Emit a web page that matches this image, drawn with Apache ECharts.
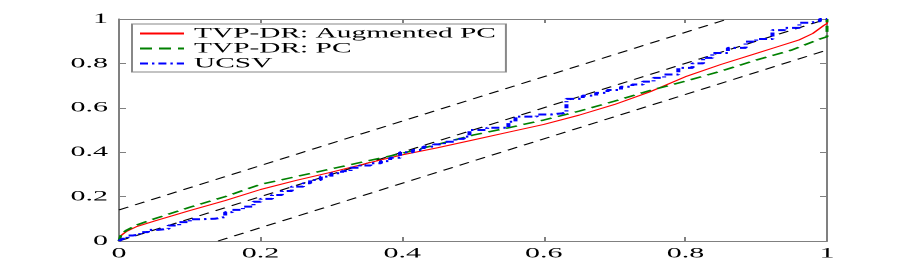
<!DOCTYPE html>
<html><head><meta charset="utf-8">
<script src="https://cdn.jsdelivr.net/npm/echarts@6/dist/echarts.min.js"></script>
<style>
html,body{margin:0;padding:0;background:#fff;overflow:hidden}
#wrap{width:913px;height:271px;overflow:hidden}
#c{width:456.5px;height:271px;transform:scaleX(2);transform-origin:0 0}
</style>
</head><body><div id="wrap"><div id="c"></div></div>
<script>
var seriesNames = ['TVP-DR: Augmented PC', 'TVP-DR: PC', 'UCSV'];
var redCurve = [[0,0],[0.003,0.025],[0.01,0.042],[0.025,0.065],[0.05,0.09],[0.1,0.137],[0.15,0.182],[0.2,0.232],[0.25,0.273],[0.3,0.31],[0.35,0.35],[0.4,0.388],[0.45,0.42],[0.5,0.455],[0.55,0.49],[0.6,0.525],[0.65,0.567],[0.7,0.615],[0.75,0.672],[0.8,0.74],[0.85,0.795],[0.9,0.845],[0.93,0.875],[0.96,0.905],[0.98,0.935],[0.995,0.97],[1,0.98],[1,1]];
var greenCurve = [[0,0],[0.003,0.03],[0.01,0.047],[0.025,0.072],[0.05,0.1],[0.1,0.152],[0.15,0.2],[0.2,0.255],[0.25,0.29],[0.3,0.325],[0.35,0.36],[0.4,0.395],[0.45,0.435],[0.5,0.477],[0.55,0.51],[0.6,0.545],[0.65,0.585],[0.7,0.63],[0.75,0.678],[0.8,0.72],[0.85,0.765],[0.9,0.815],[0.95,0.86],[0.99,0.91],[1,0.92],[1,1]];
var blueCurve = [[0,0],[0.005,0.01],[0.012,0.025],[0.02,0.03],[0.03,0.04],[0.041,0.05],[0.055,0.055],[0.07,0.07],[0.085,0.085],[0.1,0.098],[0.115,0.1],[0.135,0.108],[0.15,0.13],[0.16,0.14],[0.175,0.155],[0.19,0.177],[0.2,0.19],[0.216,0.207],[0.23,0.225],[0.244,0.245],[0.26,0.26],[0.27,0.275],[0.285,0.29],[0.3,0.305],[0.315,0.315],[0.327,0.33],[0.34,0.34],[0.355,0.35],[0.37,0.36],[0.383,0.375],[0.397,0.4],[0.415,0.41],[0.43,0.425],[0.445,0.435],[0.459,0.447],[0.475,0.46],[0.487,0.47],[0.495,0.5],[0.52,0.51],[0.55,0.537],[0.56,0.56],[0.59,0.57],[0.61,0.575],[0.626,0.58],[0.632,0.64],[0.655,0.655],[0.674,0.667],[0.69,0.68],[0.709,0.695],[0.725,0.705],[0.74,0.718],[0.755,0.735],[0.77,0.75],[0.79,0.78],[0.81,0.8],[0.825,0.825],[0.838,0.847],[0.86,0.87],[0.885,0.898],[0.9,0.91],[0.923,0.95],[0.94,0.96],[0.961,0.983],[0.975,0.99],[0.99,1],[1,1]];
var diagLine = [[0,0],[1,1]];
var upperBand = [[0,0.14],[0.86,1]];
var lowerBand = [[0.14,0],[1,0.86]];

var chart = echarts.init(document.getElementById('c'), null, {renderer:'canvas', devicePixelRatio:2});
var axisCol = '#808080';
var font = 'Liberation Serif';
function baseAxis(pos, showLabel, tickLen, margin) {
  return {
    type:'value', min:0, max:1, interval:0.2, position:pos,
    axisLine:{show:true, onZero:false, lineStyle:{color:axisCol, width:1}},
    axisTick:{show:true, inside:true, length:tickLen, lineStyle:{color:axisCol, width:1}},
    axisLabel:{show:showLabel, color:'#000', fontFamily:font, fontSize:15, margin:margin},
    splitLine:{show:false}
  };
}
var blackStyle = {color:'#000', width:1, type:[5.5,4]};
function bl(name, data){
  return {name:name, type:'line', data:data, symbol:'none', silent:true, lineStyle:blackStyle, z:1};
}
chart.setOption({
  animation:false,
  backgroundColor:'#fff',
  grid:{left:59.5, right:43.5, top:19, bottom:30, containLabel:false},
  xAxis:[baseAxis('bottom', true, 4, 5), baseAxis('top', false, 4, 5)],
  yAxis:[baseAxis('left', true, 3.5, 5.5), baseAxis('right', false, 3.5, 5.5)],
  legend:{
    data:seriesNames, orient:'vertical', left:66, top:24,
    itemWidth:22, itemHeight:14, itemGap:0,
    padding:[2,5,1,3], borderColor:'#888', borderWidth:1, backgroundColor:'#fff',
    itemStyle:{opacity:0, borderWidth:0},
    textStyle:{fontFamily:font, fontSize:14.7, color:'#000', lineHeight:14}
  },
  series:[
    bl('diag', diagLine), bl('upper', upperBand), bl('lower', lowerBand),
    {name:seriesNames[0], type:'line', data:redCurve, symbol:'none', z:3,
      lineStyle:{color:'#ff0000', width:1}, itemStyle:{color:'#ff0000'}},
    {name:seriesNames[1], type:'line', data:greenCurve, symbol:'none', z:3,
      lineStyle:{color:'#008000', width:1.5, type:[6,3.5]}, itemStyle:{color:'#008000'}},
    {name:seriesNames[2], type:'line', data:blueCurve, symbol:'none', step:'end', z:4,
      lineStyle:{color:'#0000ff', width:2, type:[4,2,1.2,2]}, itemStyle:{color:'#0000ff'}}
  ]
});
</script>
</body></html>
